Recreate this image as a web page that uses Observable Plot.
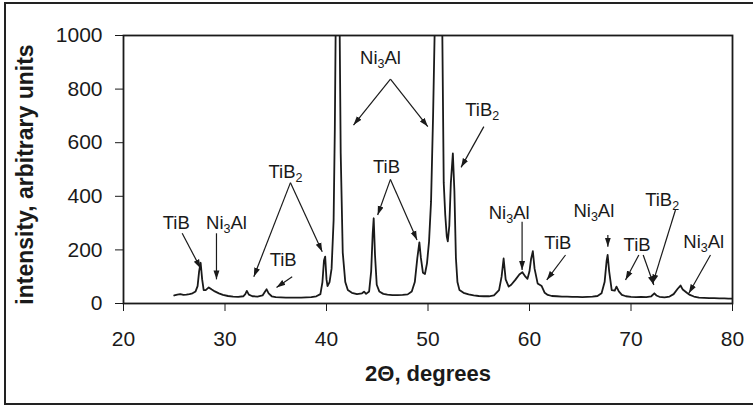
<!DOCTYPE html>
<html><head><meta charset="utf-8">
<script src="https://cdn.jsdelivr.net/npm/d3@7"></script>
<script src="https://cdn.jsdelivr.net/npm/@observablehq/plot@0.6"></script>
<style>
html,body{margin:0;padding:0;background:#fff;overflow:hidden;}
#wrap{position:relative;width:753px;height:408px;overflow:hidden;}
#border{position:absolute;left:4px;top:2px;width:760px;height:399px;border-left:2px solid #222;border-top:2px solid #222;border-bottom:2px solid #222;pointer-events:none;}
</style></head><body><div id="wrap"><div id="chart"></div><div id="border"></div></div>
<script>
// XRD pattern: 2Θ (degrees) and intensity (arbitrary units); big Ni3Al peaks exceed the 1000 axis limit
const twoTheta = [25.0,25.3,25.6,25.9,26.2,26.5,26.8,27.1,27.3,27.45,27.6,27.75,27.9,28.1,28.4,28.7,29.0,29.4,29.8,30.3,30.8,31.3,31.8,32.0,32.15,32.35,32.7,33.2,33.7,33.95,34.1,34.3,34.6,35.0,35.5,36.0,36.5,37.0,37.5,38.0,38.5,39.0,39.4,39.6,39.75,39.87,40.0,40.1,40.3,40.5,40.7,40.82,40.92,41.1,41.28,41.4,41.6,41.85,42.1,42.5,43.0,43.5,43.7,43.9,44.2,44.4,44.55,44.65,44.78,44.95,45.2,45.6,46.0,46.5,47.0,47.5,48.0,48.4,48.7,48.95,49.15,49.3,49.5,49.7,49.9,50.1,50.3,50.5,50.7,51.05,51.4,51.55,51.7,51.85,51.95,52.1,52.25,52.45,52.6,52.75,52.9,53.1,53.5,54.0,54.5,55.0,55.5,56.0,56.5,57.0,57.25,57.45,57.65,57.95,58.2,58.6,59.0,59.3,59.6,59.8,60.0,60.15,60.33,60.5,60.8,61.2,61.5,61.8,62.2,62.7,63.2,63.7,64.2,64.7,65.2,65.7,66.2,66.7,67.1,67.4,67.6,67.7,67.85,68.1,68.4,68.57,68.8,69.1,69.5,70.0,70.5,71.0,71.5,72.0,72.3,72.5,72.8,73.3,73.8,74.2,74.6,74.88,75.1,75.5,75.8,76.2,76.7,77.2,77.7,78.2,78.7,79.2,79.6,80.0];
const intensity = [30,33,35,32,33,35,38,45,65,120,152,90,50,50,60,52,45,38,32,28,26,25,27,35,47,33,27,26,30,45,53,38,27,24,23,22,22,22,22,23,24,27,35,80,160,175,90,65,80,130,310,650,1100,3000,1100,560,190,80,50,40,35,38,44,36,45,120,260,318,180,70,45,36,33,31,31,32,34,45,80,170,228,170,115,110,150,230,380,700,1100,3000,1050,450,330,250,232,290,450,560,420,170,80,50,40,34,30,28,27,27,30,50,100,168,90,63,70,88,108,117,100,92,120,165,195,130,75,65,40,32,28,27,26,26,25,25,24,25,26,28,38,80,160,181,120,50,48,63,45,32,27,25,24,25,24,27,38,30,25,23,26,35,55,67,52,40,32,26,22,21,20,20,19,19,18,18];

const xTicks = [20,30,40,50,60,70,80];
const yTicks = [0,200,400,600,800,1000];

// phase annotations (label text and its centre)
const labelText = ["TiB","Ni₃Al","TiB₂","TiB","Ni₃Al","TiB","TiB₂","Ni₃Al","TiB","Ni₃Al","TiB","TiB₂","Ni₃Al"];
const labelX = [25.2,30.15,35.96,35.73,45.32,45.91,55.34,58.0,62.79,66.34,70.6,73.07,77.17];
const labelY = [301,301,491,162,915,510,722,337,225,343,218,386,231];

// arrows from labels to peaks
const arrowX1 = [25.78,29.16,36.45,36.45,36.62,46.3,46.3,46.3,46.3,55.5,59.27,63.55,67.72,70.77,71.2,74.38,77.83];
const arrowY1 = [262,262,451,451,100,837,837,463,463,660,305,181,256,181,181,349,181];
const arrowX2 = [27.6,29.16,32.84,39.58,35.07,42.66,49.98,45.04,48.92,53.26,59.27,61.7,67.72,69.46,72.25,72.14,75.7];
const arrowY2 = [131,90,100,193,60,666,660,330,237,508,125,88,212,88,69,75,38];

const ink = "#1a1a1a";
const chart = Plot.plot({
  width: 753, height: 408,
  marginLeft: 123, marginRight: 21, marginTop: 35, marginBottom: 105,
  style: {fontFamily: "'Liberation Sans', Arial, sans-serif", fontSize: "21px", color: ink, background: "#fff"},
  x: {domain: [20, 80], ticks: xTicks, tickSize: 8, tickPadding: 20, label: null, tickFormat: "d"},
  y: {domain: [0, 1000], ticks: yTicks, tickSize: 8, tickPadding: 13, label: null, tickFormat: "d"},
  marks: [
    Plot.line(twoTheta.map((d, i) => i), {x: twoTheta, y: intensity, stroke: ink, strokeWidth: 1.8, clip: true}),
    Plot.link(arrowX1.map((d, i) => i), {x1: arrowX1, y1: arrowY1, x2: arrowX2, y2: arrowY2, stroke: ink, strokeWidth: 1.2, markerEnd: "arrow"}),
    Plot.text(labelText, {x: labelX, y: labelY, text: d => d, fontSize: 18.5, fill: ink}),
    Plot.frame({stroke: ink, strokeWidth: 1.8}),
    Plot.text(["intensity, arbitrary units"], {frameAnchor: "left", textAnchor: "middle", dx: -98, dy: 5, rotate: -90, fontWeight: "bold", fontSize: 23, fill: ink}),
    Plot.text(["2Θ, degrees"], {frameAnchor: "bottom", textAnchor: "middle", dy: 77, fontWeight: "bold", fontSize: 22, fill: ink})
  ]
});
document.getElementById("chart").appendChild(chart);

// subscripts in phase names
const subMap = {"₂": "2", "₃": "3"};
chart.querySelectorAll("text").forEach(t => {
  const s = t.textContent;
  if (!/[₂₃]/.test(s)) return;
  t.textContent = "";
  let shifted = false;
  for (const part of s.split(/([₂₃])/)) {
    if (!part) continue;
    const ts = document.createElementNS("http://www.w3.org/2000/svg", "tspan");
    if (subMap[part]) {
      ts.textContent = subMap[part];
      ts.setAttribute("font-size", "12.5");
      ts.setAttribute("dy", "4");
      shifted = true;
    } else {
      ts.textContent = part;
      if (shifted) { ts.setAttribute("dy", "-4"); shifted = false; }
    }
    t.appendChild(ts);
  }
});

// filled arrowheads
chart.querySelectorAll("marker").forEach(m => {
  m.setAttribute("viewBox", "-10 -5 10 10");
  m.setAttribute("markerUnits", "userSpaceOnUse");
  m.setAttribute("markerWidth", "9");
  m.setAttribute("markerHeight", "9");
  m.setAttribute("refX", "0");
  m.setAttribute("refY", "0");
  m.setAttribute("fill", ink);
  m.setAttribute("stroke", "none");
  const p = m.querySelector("path");
  if (p) p.setAttribute("d", "M-10,-3.3L0,0L-10,3.3Z");
});
</script>
</body></html>
